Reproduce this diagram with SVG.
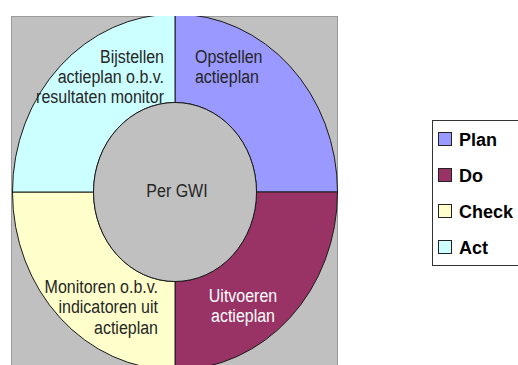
<svg xmlns="http://www.w3.org/2000/svg" width="518" height="365" viewBox="0 0 518 365">
<defs>
<style>
.q{stroke:#1a1a1a;stroke-width:1}
.t{font-family:"Liberation Sans",Arial,sans-serif;font-size:16px;fill:#262626}
.lg{font-family:"Liberation Sans",Arial,sans-serif;font-size:18px;font-weight:bold;fill:#000}
.sw{stroke:#222;stroke-width:1}
</style>
<clipPath id="box"><rect x="11" y="16" width="327" height="360"/></clipPath>
</defs>
<rect width="518" height="365" fill="#fff"/>
<rect x="11.5" y="16.5" width="326" height="360" fill="#c0c0c0" stroke="#9a9a9a" stroke-width="1"/>
<g clip-path="url(#box)">
<g id="plan"><path class="q" fill="#9999ff" d="M175,14 A162.5,178 0 0 1 337.5,192 L256.5,192 A81.5,89.5 0 0 0 175,102.5 Z"/></g>
<g id="do"><path class="q" fill="#993366" d="M337.5,192 A162.5,178 0 0 1 175,370 L175,281.5 A81.5,89.5 0 0 0 256.5,192 Z"/></g>
<g id="check"><path class="q" fill="#ffffcc" d="M175,370 A162.5,178 0 0 1 12.5,192 L93.5,192 A81.5,89.5 0 0 0 175,281.5 Z"/></g>
<g id="act"><path class="q" fill="#ccffff" d="M12.5,192 A162.5,178 0 0 1 175,14 L175,102.5 A81.5,89.5 0 0 0 93.5,192 Z"/></g>
<g id="center"><ellipse class="q" cx="175" cy="192" rx="81.5" ry="89.5" fill="#c0c0c0"/></g>
</g>
<g transform="scale(1,1.1)">
<text class="t" text-anchor="end" x="164"><tspan x="164" y="57">Bijstellen</tspan><tspan x="164" y="75.6">actieplan o.b.v.</tspan><tspan x="164" y="93.9">resultaten monitor</tspan></text>
<text class="t" x="195"><tspan x="195" y="57">Opstellen</tspan><tspan x="195" y="75.6">actieplan</tspan></text>
<text class="t" text-anchor="middle" x="177" y="179.1">Per GWI</text>
<text class="t" text-anchor="end" x="158"><tspan x="158" y="266">Monitoren o.b.v.</tspan><tspan x="158" y="284.8">indicatoren uit</tspan><tspan x="158" y="303.9">actieplan</tspan></text>
<text class="t" text-anchor="middle" x="243" style="fill:#fff"><tspan x="243" y="274.2">Uitvoeren</tspan><tspan x="243" y="292.5">actieplan</tspan></text>
</g>
<g id="legend">
<rect x="432.5" y="120.5" width="86" height="145" fill="#fff" stroke="#333" stroke-width="1"/>
<rect class="sw" x="438.5" y="132.5" width="13" height="13" fill="#9999ff"/>
<rect class="sw" x="438.5" y="168.5" width="13" height="13" fill="#993366"/>
<rect class="sw" x="438.5" y="204.5" width="13" height="13" fill="#ffffcc"/>
<rect class="sw" x="438.5" y="240.5" width="13" height="13" fill="#ccffff"/>
<text class="lg" x="459" y="146">Plan</text>
<text class="lg" x="459" y="182">Do</text>
<text class="lg" x="459" y="218">Check</text>
<text class="lg" x="459" y="254">Act</text>
</g>
</svg>
